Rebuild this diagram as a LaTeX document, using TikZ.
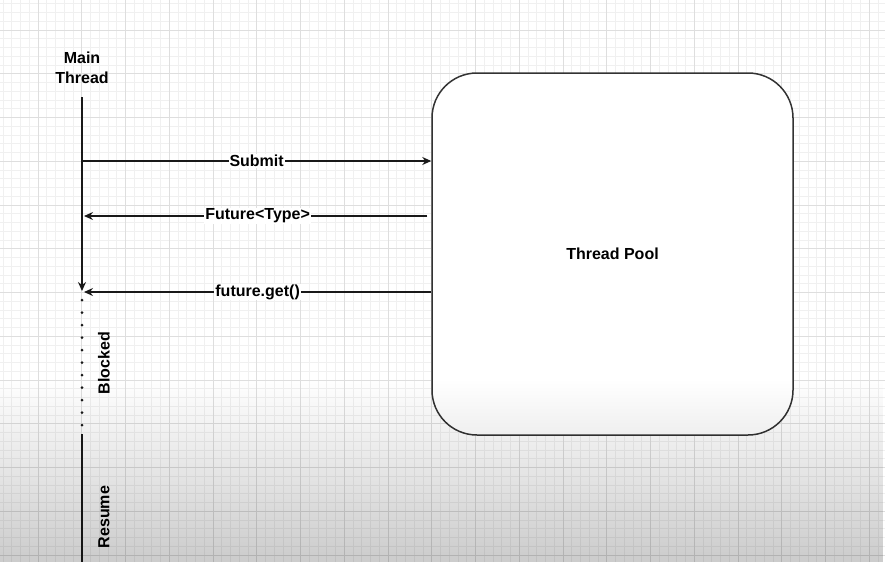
\documentclass[tikz,border=0pt]{standalone}
\usepackage{fontspec}
\setmainfont{Liberation Sans}
\usetikzlibrary{positioning,arrows.meta,fadings}

\begin{document}
\begin{tikzpicture}[x=1pt,y=-1pt,
	every node/.style={font=\fontsize{16}{19.5}\selectfont\bfseries},
	lbl/.style={fill=white,inner sep=1pt},
	msg/.style={draw=black!90,line width=1.4pt,-{Stealth[length=9pt,width=8pt,inset=3pt]}},
	pool/.style={draw=black!80,fill=white,line width=1.5pt,rounded corners=45pt,minimum width=361pt,minimum height=362pt}]
			\useasboundingbox (0,0) rectangle (885,562);
			\fill[white] (0,0) rectangle (885,562);
			\begin{scope}
			\clip (0,0) rectangle (885,562);
			\foreach \i in {0,...,102} \draw[black!6,line width=0.6pt] ({-5.75+\i*8.75},0) -- ++(0,562);
			\foreach \i in {0,...,66} \draw[black!6,line width=0.6pt] (0,{-13.75+\i*8.75}) -- ++(885,0);
			\foreach \i in {0,...,21} \draw[black!13,line width=0.9pt] ({-5.75+\i*43.75},0) -- ++(0,562);
			\foreach \i in {0,...,13} \draw[black!13,line width=0.9pt] (0,{-13.75+\i*43.75}) -- ++(885,0);
			\end{scope}

			\node[align=center] (main) at (82,68) {Main\\Thread};
			\coordinate (mtop) at (82,97);
			\coordinate (sub) at (82,161);
			\coordinate (fut) at (84,216);
			\coordinate (get) at (84,292);
			\coordinate (mres) at (82,434);
			\coordinate (mend) at (82,562);
			\node[pool] (pool) at (612.5,254) {Thread Pool};

			\draw[msg] (mtop) -- (82,291);
			\draw[black!90,line width=3pt,line cap=round,dash pattern=on 0pt off 12.5pt] (82,300) -- (mres);
			\draw[black!90,line width=1.4pt] (mres) -- (mend);

			\draw[msg] (sub) -- node[lbl] {Submit} (sub -| pool.west);
			\draw[msg,shorten <=4pt] (fut -| pool.west) -- node[lbl] {Future<Type>} (fut);
			\draw[msg] (get -| pool.west) -- node[lbl] {future.get()} (get);

			\node[rotate=90] (blocked) at (104,363) {Blocked};
			\node[rotate=90] (resume) at (104,517) {Resume};

			\begin{scope}[blend mode=multiply]
			\fill[black!20,path fading=north] (0,380) rectangle (885,562);
			\end{scope}
		\end{tikzpicture}
\end{document}
